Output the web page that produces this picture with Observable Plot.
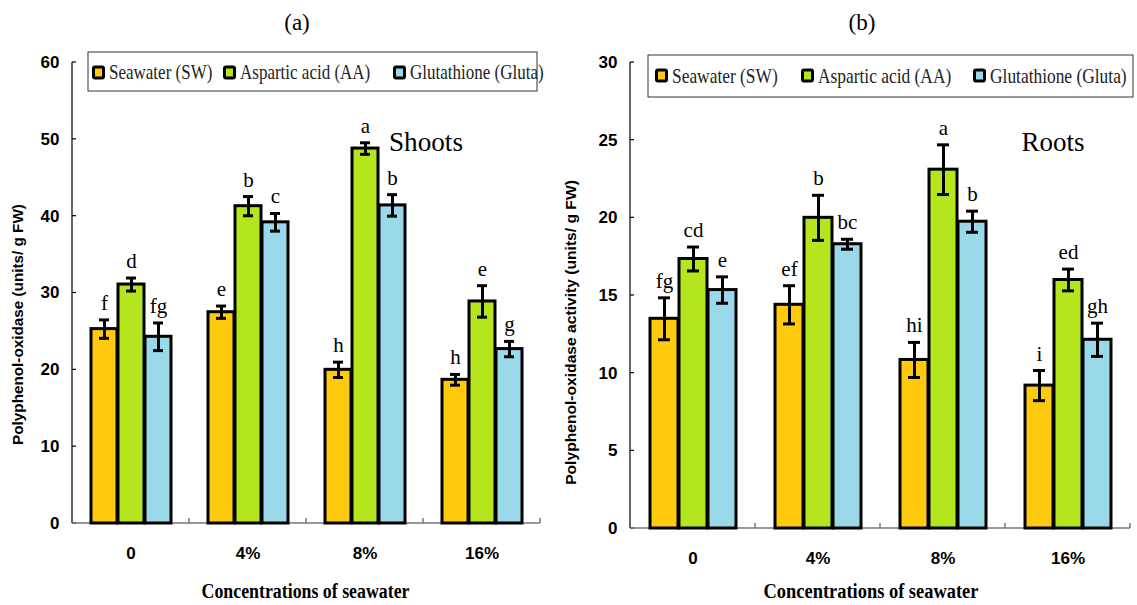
<!DOCTYPE html>
<html>
<head>
<meta charset="utf-8">
<script src="https://cdn.jsdelivr.net/npm/d3@7"></script>
<script src="https://cdn.jsdelivr.net/npm/@observablehq/plot@0.6"></script>
<style>
  body { margin: 0; background: #fff; }
  #wrap { position: relative; width: 1137px; height: 605px; overflow: hidden; background: #fff; }
  #wrap > svg { position: absolute; top: 0; }
  g[aria-label^="y-axis"] text, g[aria-label^="fx-axis"] text {
    font-family: "Liberation Sans Narrow", "Arial Narrow", "Liberation Sans", Arial, sans-serif;
    font-stretch: condensed;
    font-weight: bold;
    font-size: 17px;
    fill: #000;
  }
</style>
</head>
<body>
<div id="wrap"></div>
<script>
// ---------- data ----------
const concentrations = ["0", "4%", "8%", "16%"];
const treatments = ["Seawater (SW)", "Aspartic acid (AA)", "Glutathione (Gluta)"];
const treatmentColors = ["#FFC90E", "#B5E61D", "#99D9EA"];

// (a) Shoots
const shootSW = [25.3, 27.5, 20.0, 18.7];
const shootAA = [31.1, 41.3, 48.8, 28.9];
const shootGluta = [24.3, 39.2, 41.4, 22.7];
const shootSWErr = [1.2, 0.8, 1.0, 0.7];
const shootAAErr = [0.85, 1.25, 0.75, 2.05];
const shootGlutaErr = [1.8, 1.15, 1.4, 1.0];
const shootSWLetters = ["f", "e", "h", "h"];
const shootAALetters = ["d", "b", "a", "e"];
const shootGlutaLetters = ["fg", "c", "b", "g"];
const shootTicks = [0, 10, 20, 30, 40, 50, 60];

// (b) Roots
const rootSW = [13.5, 14.4, 10.85, 9.2];
const rootAA = [17.35, 20.0, 23.1, 16.0];
const rootGluta = [15.35, 18.3, 19.75, 12.15];
const rootSWErr = [1.35, 1.23, 1.13, 0.97];
const rootAAErr = [0.77, 1.45, 1.6, 0.7];
const rootGlutaErr = [0.85, 0.32, 0.68, 1.07];
const rootSWLetters = ["fg", "ef", "hi", "i"];
const rootAALetters = ["cd", "b", "a", "ed"];
const rootGlutaLetters = ["e", "bc", "b", "gh"];
const rootTicks = [0, 5, 10, 15, 20, 25, 30];

const panelTitles = ["(a)", "(b)"];
const organLabels = ["Shoots", "Roots"];
const xTitle = "Concentrations of seawater";
const yTitles = ["Polyphenol-oxidase (units/ g FW)", "Polyphenol-oxidase activity (units/ g FW)"];

function buildRows(means, errs, letters) {
  const rows = [];
  concentrations.forEach((c, i) => {
    treatments.forEach((t, j) => {
      rows.push({conc: c, treat: t, mean: means[j][i], err: errs[j][i], letter: letters[j][i]});
    });
  });
  return rows;
}

const shootRows = buildRows([shootSW, shootAA, shootGluta], [shootSWErr, shootAAErr, shootGlutaErr],
                            [shootSWLetters, shootAALetters, shootGlutaLetters]);
const rootRows = buildRows([rootSW, rootAA, rootGluta], [rootSWErr, rootAAErr, rootGlutaErr],
                           [rootSWLetters, rootAALetters, rootGlutaLetters]);

const wrap = document.getElementById("wrap");

function makePanel(rows, ticks, cfg) {
  const plot = Plot.plot({
    width: cfg.width,
    height: 605,
    marginLeft: cfg.marginLeft,
    marginRight: cfg.marginRight,
    marginTop: cfg.marginTop,
    marginBottom: cfg.marginBottom,
    style: {background: "transparent", fontFamily: "Liberation Serif", overflow: "visible"},
    fx: {domain: concentrations, padding: 0, label: null, axis: "bottom", tickSize: 0, tickPadding: 23},
    x: {domain: treatments, axis: null, paddingInner: 0.05, paddingOuter: cfg.padOuter},
    y: {domain: [ticks[0], ticks[ticks.length - 1]], ticks: ticks, tickSize: 0, tickPadding: 13, label: null},
    color: {domain: treatments, range: treatmentColors},
    marks: [
      Plot.barY(rows, {fx: "conc", x: "treat", y: "mean", fill: "treat", stroke: "#000", strokeWidth: 3}),
      Plot.ruleX(rows, {fx: "conc", x: "treat", y1: d => d.mean - d.err, y2: d => d.mean + d.err, stroke: "#000", strokeWidth: 3}),
      Plot.tickY(rows, {fx: "conc", x: "treat", y: d => d.mean - d.err, stroke: "#000", strokeWidth: 3, insetLeft: 8, insetRight: 8}),
      Plot.tickY(rows, {fx: "conc", x: "treat", y: d => d.mean + d.err, stroke: "#000", strokeWidth: 3, insetLeft: 8, insetRight: 8}),
      Plot.text(rows, {fx: "conc", x: "treat", y: d => d.mean + d.err, text: "letter", dy: -10, lineAnchor: "bottom",
                       fontSize: 21, fontFamily: "Liberation Serif, Times New Roman, serif", fill: "#000"})
    ]
  });
  plot.style.left = cfg.left + "px";
  wrap.appendChild(plot);

  // axis lines and inward ticks, from the plot's own scales
  const fx = plot.scale("fx"), y = plot.scale("y");
  const svg = d3.select(plot);
  const g = svg.insert("g", "g");
  const x0 = fx.apply(concentrations[0]);
  const xEnd = fx.apply(concentrations[concentrations.length - 1]) + fx.bandwidth;
  const yBase = y.apply(ticks[0]), yTop = y.apply(ticks[ticks.length - 1]);
  g.append("line").attr("x1", x0).attr("x2", x0).attr("y1", yBase).attr("y2", yTop)
    .attr("stroke", "#000").attr("stroke-width", 1.2);
  ticks.forEach(v => {
    g.append("line").attr("x1", x0).attr("x2", x0 + 4).attr("y1", y.apply(v)).attr("y2", y.apply(v))
      .attr("stroke", "#000").attr("stroke-width", 1.2);
  });
  g.append("line").attr("x1", x0).attr("x2", xEnd).attr("y1", yBase).attr("y2", yBase)
    .attr("stroke", "#777").attr("stroke-width", 1.5);
  concentrations.slice(1).map(c => fx.apply(c)).concat([xEnd]).forEach(xx => {
    g.append("line").attr("x1", xx).attr("x2", xx).attr("y1", yBase).attr("y2", yBase - 5)
      .attr("stroke", "#777").attr("stroke-width", 1.5);
  });
  return plot;
}

makePanel(shootRows, shootTicks, {left: 0, width: 560, marginLeft: 70, marginRight: 19, marginTop: 62, marginBottom: 82, padOuter: 0.62});
makePanel(rootRows, rootTicks, {left: 560, width: 577, marginLeft: 70, marginRight: 7, marginTop: 62, marginBottom: 77, padOuter: 0.67});

// ---------- overlay: titles, axis titles, legends ----------
const ov = d3.select(wrap).append("svg")
  .attr("width", 1137).attr("height", 605)
  .style("left", "0px").style("pointer-events", "none");

const serif = "Liberation Serif, Times New Roman, serif";
const sans = "Liberation Sans, Arial, sans-serif";

// text squeezed to a given width with a scale transform (keeps its box honest)
function fitText(parent, str, x, y, size, width, attrs, rotate) {
  const g = parent.append("g");
  const t = g.append("text").attr("font-size", size).attr("text-anchor", "middle")
    .attr("dominant-baseline", "central").text(str);
  Object.entries(attrs).forEach(([k, v]) => t.attr(k, v));
  const natural = t.node().getComputedTextLength();
  g.attr("transform", `translate(${x},${y})${rotate ? " rotate(-90)" : ""} scale(${width / natural},1)`);
  return g;
}

[[297, panelTitles[0]], [862, panelTitles[1]]].forEach(([x, t]) => {
  ov.append("text").attr("x", x).attr("y", 22).attr("text-anchor", "middle").attr("dominant-baseline", "central")
    .attr("font-family", serif).attr("font-size", 23).text(t);
});

fitText(ov, organLabels[0], 426, 142, 27, 74, {"font-family": serif});
fitText(ov, organLabels[1], 1053, 142, 28, 63, {"font-family": serif});

[[305.5, 208], [871, 215]].forEach(([x, len]) => {
  fitText(ov, xTitle, x, 590, 22, len, {"font-family": serif, "font-weight": "bold"});
});

[[18, 324.5, 241, yTitles[0]], [571, 332.5, 305, yTitles[1]]].forEach(([x, yy, len, t]) => {
  fitText(ov, t, x, yy, 14, len, {"font-family": sans, "font-weight": "bold"}, true);
});

function legend(box, items, fontSize, cy) {
  ov.append("rect").attr("x", box[0]).attr("y", box[1]).attr("width", box[2] - box[0]).attr("height", box[3] - box[1])
    .attr("fill", "#fff").attr("stroke", "#333").attr("stroke-width", 1);
  treatments.forEach((t, i) => {
    const sx = items[i];
    ov.append("rect").attr("x", sx + 1.5).attr("y", cy - 6).attr("width", 10).attr("height", 11).attr("rx", 1.5)
      .attr("fill", treatmentColors[i]).attr("stroke", "#000").attr("stroke-width", 3);
    ov.append("g").attr("transform", `translate(${sx + 17},${cy}) scale(1,1.17)`)
      .append("text").attr("dominant-baseline", "central")
      .attr("font-family", serif).attr("font-size", fontSize).attr("fill", "#222").text(t);
  });
}
legend([88, 52, 537, 91], [92, 223, 393], 17, 73);
legend([648, 55, 1133, 97], [655, 801, 973], 17.4, 76);
</script>
</body>
</html>
